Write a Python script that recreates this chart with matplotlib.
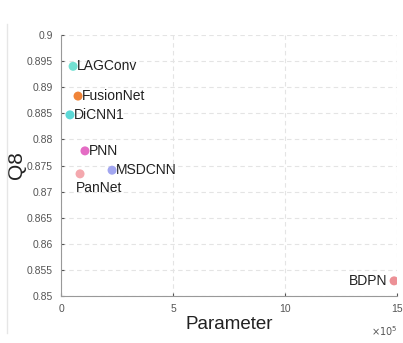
import numpy as np
import matplotlib.pyplot as plt
from matplotlib.lines import Line2D

plt.rcParams['font.family'] = ['Liberation Sans', 'DejaVu Sans']

names = ['LAGConv', 'FusionNet', 'DiCNN1', 'PNN', 'MSDCNN', 'PanNet', 'BDPN']
params = [0.54, 0.76, 0.40, 1.07, 2.28, 0.85, 14.87]  # x 10^5
q8 = [0.8940, 0.8883, 0.8847, 0.8778, 0.8741, 0.8734, 0.8529]
colors = ['#72e0d2', '#f08438', '#5cd8d6', '#e46cc4', '#a2a6f0', '#f4a8ae', '#ec9096']
yticks = [0.85, 0.855, 0.86, 0.865, 0.87, 0.875, 0.88, 0.885, 0.89, 0.895, 0.9]
ytick_labels = ['0.85', '0.855', '0.86', '0.865', '0.87', '0.875', '0.88', '0.885', '0.89', '0.895', '0.9']

fig = plt.figure(figsize=(4.03, 3.43), dpi=100)
ax = fig.add_axes([61/403, 1 - 296/343, 336/403, 261/343])

x = np.array(params) * 1e5
ax.scatter(x, q8, s=42, c=colors, zorder=3, linewidths=0)

# label placement: offsets in points
offsets = {'PanNet': (-3, -10, 'left'), 'BDPN': (-5, 0, 'right')}
for n, xi, yi in zip(names, x, q8):
    dx, dy, ha = offsets.get(n, (3, 0, 'left'))
    ax.annotate(n, (xi, yi), xytext=(dx, dy), textcoords='offset points',
                ha=ha, va='center', fontsize=10, color='#222222')

ax.set_xlim(0, 15e5)
ax.set_ylim(0.85, 0.9)
ax.set_xticks([0, 5e5, 10e5, 15e5])
ax.set_xticklabels(['0', '5', '10', '15'])
ax.set_yticks(yticks)
ax.set_yticklabels(ytick_labels)
ax.tick_params(labelsize=7.5, colors='#555555', length=2, direction='in')
ax.tick_params(axis='y', pad=6)
ax.tick_params(axis='x', pad=6)
ax.grid(True, linestyle=(0, (4, 3)), color='#e4e4e4', linewidth=0.8)
for s in ['top', 'right']:
    ax.spines[s].set_visible(False)
for s in ['left', 'bottom']:
    ax.spines[s].set_color('#999999')
    ax.spines[s].set_linewidth(0.8)

ax.set_xlabel('Parameter', fontsize=13.5, color='#222222', labelpad=1)
ax.set_ylabel('Q8', fontsize=15, color='#222222')
ax.yaxis.set_label_coords(-0.105, 0.5)
ax.text(1.0, -0.135, r'$\times10^5$', transform=ax.transAxes, ha='right',
        va='center', fontsize=7, color='#555555')

# faint border line at the far left of the screenshot
fig.add_artist(Line2D([7/403, 7/403], [0.03, 0.93], transform=fig.transFigure,
                      color='#e6e6e6', linewidth=1))

fig.savefig('out.png', dpi=100)
